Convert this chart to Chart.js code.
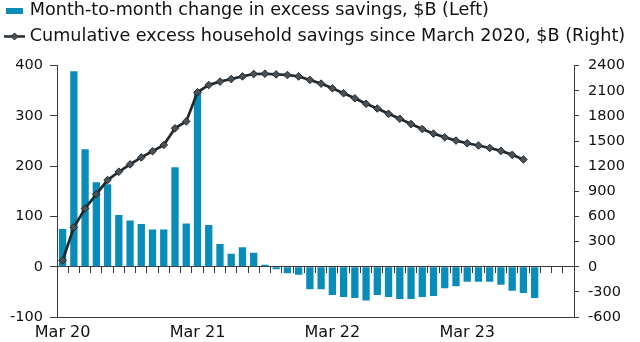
<!DOCTYPE html>
<html>
<head>
<meta charset="utf-8">
<script src="https://cdn.jsdelivr.net/npm/chart.js@4"></script>
<style>
  html, body { margin: 0; padding: 0; background: #fff; }
  #wrap { width: 640px; height: 342px; position: relative; }
</style>
</head>
<body>
<div id="wrap"><canvas id="chart"></canvas></div>
<script>
// categories: Mar 2020 .. Dec 2023
const months = [
  "Mar 20", "Apr 20", "May 20", "Jun 20", "Jul 20", "Aug 20", "Sep 20", "Oct 20", "Nov 20", "Dec 20",
  "Jan 21", "Feb 21", "Mar 21", "Apr 21", "May 21", "Jun 21", "Jul 21", "Aug 21", "Sep 21", "Oct 21", "Nov 21", "Dec 21",
  "Jan 22", "Feb 22", "Mar 22", "Apr 22", "May 22", "Jun 22", "Jul 22", "Aug 22", "Sep 22", "Oct 22", "Nov 22", "Dec 22",
  "Jan 23", "Feb 23", "Mar 23", "Apr 23", "May 23", "Jun 23", "Jul 23", "Aug 23", "Sep 23", "Oct 23", "Nov 23", "Dec 23"
];
const tickLabels = ["Mar 20", "Mar 21", "Mar 22", "Mar 23"];

// month-to-month change in excess savings, $B (left axis)
const monthlyChange = [
  75, 389, 234, 168, 164, 103, 92, 85, 74, 74,
  198, 86, 348, 83, 45, 26, 39, 28, 4, -5,
  -13, -16, -45, -45, -56, -60, -62, -67, -56, -60,
  -64, -64, -60, -58, -43, -39, -30, -30, -30, -36,
  -48, -52, -62
];

// cumulative excess household savings since March 2020, $B (right axis)
const cumulative = [
  75, 470, 695, 866, 1035, 1134, 1222, 1305, 1379, 1454,
  1652, 1735, 2083, 2170, 2210, 2241, 2272, 2301, 2304, 2296,
  2289, 2272, 2230, 2186, 2130, 2071, 2011, 1945, 1889, 1826,
  1767, 1703, 1644, 1589, 1545, 1506, 1474, 1447, 1418, 1383,
  1336, 1281
];

const leftAxis = { min: -100, max: 400, step: 100 };
const rightAxis = { min: -600, max: 2400, step: 300 };

const FONT = "'DejaVu Sans', sans-serif";
const TEXT = "#111111";
const AXIS = "#3a3a3a";
const BAR_COLOR = "#0a8cb9";
const LINE_COLOR = "#22282c";
const POINT_FILL = "#4a5258";

function barMarker() {
  const c = document.createElement("canvas");
  c.width = 17; c.height = 6;
  const g = c.getContext("2d");
  g.fillStyle = BAR_COLOR;
  g.fillRect(0, 0, 17, 6);
  return c;
}

function lineMarker() {
  const c = document.createElement("canvas");
  c.width = 21; c.height = 9;
  const g = c.getContext("2d");
  g.strokeStyle = LINE_COLOR;
  g.lineWidth = 2.5;
  g.beginPath(); g.moveTo(0, 4.5); g.lineTo(21, 4.5); g.stroke();
  g.fillStyle = POINT_FILL;
  g.lineWidth = 1;
  g.beginPath();
  g.moveTo(10.5, 1); g.lineTo(14, 4.5); g.lineTo(10.5, 8); g.lineTo(7, 4.5);
  g.closePath(); g.fill(); g.stroke();
  return c;
}

const markers = [barMarker(), lineMarker()];

new Chart(document.getElementById("chart"), {
  type: "bar",
  data: {
    labels: months,
    datasets: [
      {
        label: "Month-to-month change in excess savings, $B (Left)",
        data: monthlyChange,
        xAxisID: "x",
        yAxisID: "y",
        backgroundColor: BAR_COLOR,
        borderWidth: 0,
        barPercentage: 0.65,
        categoryPercentage: 1,
        order: 1,
      },
      {
        type: "line",
        label: "Cumulative excess household savings since March 2020, $B (Right)",
        data: cumulative,
        xAxisID: "x",
        yAxisID: "y1",
        borderColor: LINE_COLOR,
        borderWidth: 2.7,
        tension: 0,
        pointStyle: "rectRot",
        pointRadius: 3.8,
        pointBackgroundColor: POINT_FILL,
        pointBorderColor: LINE_COLOR,
        pointBorderWidth: 1,
        order: 0,
      },
    ],
  },
  options: {
    responsive: true,
    maintainAspectRatio: false,
    animation: false,
    layout: { padding: { top: -6, left: 0, right: 0, bottom: 0 } },
    plugins: {
      tooltip: { enabled: false },
      legend: {
        position: "top",
        align: "start",
        labels: {
          usePointStyle: true,
          pointStyleWidth: 13,
          padding: 8,
          color: TEXT,
          font: { family: FONT, size: 17.6 },
          generateLabels: (chart) => chart.data.datasets.map((ds, i) => ({
            text: ds.label,
            pointStyle: markers[i],
            fontColor: TEXT,
            lineWidth: 0,
            hidden: false,
            datasetIndex: i,
          })),
        },
      },
    },
    scales: {
      x: {
        type: "category",
        position: "bottom",
        offset: true,
        grid: { display: false, drawTicks: false },
        border: { display: true, color: AXIS, width: 1 },
        ticks: {
          autoSkip: false,
          maxRotation: 0,
          padding: 6,
          color: TEXT,
          font: { family: FONT, size: 16 },
          callback: function (value) {
            const label = this.getLabelForValue(value);
            return tickLabels.includes(label) ? label : "";
          },
        },
        afterFit: (scale) => { scale.height = 25; },
      },
      // tick marks along the zero line
      x0: {
        type: "category",
        position: { y: 0 },
        offset: true,
        grid: { display: true, offset: true, drawOnChartArea: false, tickLength: 6, color: AXIS },
        border: { display: true, color: AXIS, width: 1 },
        ticks: { display: false, autoSkip: false },
      },
      // spacer below the legend
      xt: {
        type: "category",
        position: "top",
        grid: { display: false, drawTicks: false },
        border: { display: false },
        ticks: { display: false },
        afterFit: (scale) => { scale.height = 10.5; },
      },
      y: {
        position: "left",
        min: leftAxis.min,
        max: leftAxis.max,
        ticks: { stepSize: leftAxis.step, padding: 7, color: TEXT, font: { family: FONT, size: 14.5 } },
        grid: { drawOnChartArea: false, tickLength: 7, color: AXIS },
        border: { display: true, color: AXIS, width: 1 },
        afterFit: (scale) => { scale.width = 57; },
      },
      y1: {
        position: "right",
        min: rightAxis.min,
        max: rightAxis.max,
        ticks: {
          stepSize: rightAxis.step,
          padding: 9,
          color: TEXT,
          font: { family: FONT, size: 14.5 },
          callback: (value) => String(value),
        },
        grid: { drawOnChartArea: false, tickLength: 5, color: AXIS },
        border: { display: true, color: AXIS, width: 1 },
        afterFit: (scale) => { scale.width = 66; },
      },
    },
  },
});
</script>
</body>
</html>
